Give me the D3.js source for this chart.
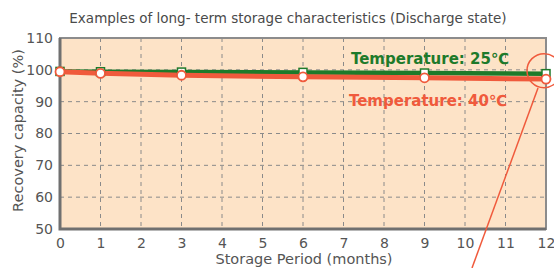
<!DOCTYPE html>
<html>
<head>
<meta charset="utf-8">
<script src="https://cdn.jsdelivr.net/npm/d3@7"></script>
<style>
  body { margin: 0; background: #fff; }
  text { font-family: "DejaVu Sans", sans-serif; }
</style>
</head>
<body>
<svg id="chart"></svg>
<script>
const months = [0, 1, 3, 6, 9, 12];
const temp25 = [99.5, 99.4, 99.3, 99.2, 99.0, 98.8];
const temp40 = [99.4, 98.9, 98.3, 97.8, 97.5, 97.1];
const xTicks = d3.range(0, 13);
const yTicks = [50, 60, 70, 80, 90, 100, 110];

const size = { width: 554, height: 268 };
const margin = { top: 38, right: 8, bottom: 39, left: 60 };

const svg = d3.select("#chart")
  .attr("width", size.width)
  .attr("height", size.height);

const x = d3.scaleLinear()
  .domain([0, 12])
  .range([margin.left, size.width - margin.right]);

const y = d3.scaleLinear()
  .domain([50, 110])
  .range([size.height - margin.bottom, margin.top]);

// plot background
svg.append("rect")
  .attr("x", x(0))
  .attr("y", y(110))
  .attr("width", x(12) - x(0))
  .attr("height", y(50) - y(110))
  .attr("fill", "#fde3c7");

// dashed grid
xTicks.slice(1, -1).forEach((t) => {
  svg.append("line")
    .attr("x1", x(t)).attr("x2", x(t))
    .attr("y1", y(110)).attr("y2", y(50))
    .attr("stroke", "#8a8a8a")
    .attr("stroke-width", 1)
    .attr("stroke-dasharray", "4,4");
});
yTicks.slice(1, -1).forEach((t) => {
  svg.append("line")
    .attr("x1", x(0)).attr("x2", x(12))
    .attr("y1", y(t)).attr("y2", y(t))
    .attr("stroke", "#8a8a8a")
    .attr("stroke-width", 1)
    .attr("stroke-dasharray", "4,4");
});

// frame
svg.append("rect")
  .attr("x", x(0))
  .attr("y", y(110))
  .attr("width", x(12) - x(0))
  .attr("height", y(50) - y(110))
  .attr("fill", "none")
  .attr("stroke", "#8c8c8c")
  .attr("stroke-width", 2);
svg.append("path")
  .attr("d", `M${x(0)},${y(110)}V${y(50)}H${x(12)}`)
  .attr("fill", "none")
  .attr("stroke", "#707070")
  .attr("stroke-width", 3);

// axes (labels only)
const xAxis = svg.append("g")
  .attr("transform", `translate(0, ${y(50)})`)
  .call(d3.axisBottom(x).tickValues(xTicks).tickSize(0).tickPadding(9));
const yAxis = svg.append("g")
  .attr("transform", `translate(${x(0)}, 0)`)
  .call(d3.axisLeft(y).tickValues(yTicks).tickSize(0).tickPadding(7));
[xAxis, yAxis].forEach((g) => {
  g.select(".domain").remove();
  g.selectAll("text")
    .style("font-family", "DejaVu Sans, sans-serif")
    .style("font-size", "14px")
    .attr("fill", "#555");
});

// series
const line = d3.line()
  .x((d, i) => x(months[i]))
  .y((d) => y(d));

svg.append("path")
  .datum(temp25)
  .attr("d", line)
  .attr("fill", "none")
  .attr("stroke", "#1e7a2a")
  .attr("stroke-width", 4.5);

svg.append("path")
  .datum(temp40)
  .attr("d", line)
  .attr("fill", "none")
  .attr("stroke", "#f05a3c")
  .attr("stroke-width", 5);

svg.append("g")
  .selectAll("rect")
  .data(temp25)
  .join("rect")
  .attr("x", (d, i) => x(months[i]) - 4)
  .attr("y", (d) => y(d) - 4)
  .attr("width", 8)
  .attr("height", 8)
  .attr("fill", "#fff")
  .attr("stroke", "#1e7a2a")
  .attr("stroke-width", 1.5);

svg.append("g")
  .selectAll("circle")
  .data(temp40)
  .join("circle")
  .attr("cx", (d, i) => x(months[i]))
  .attr("cy", (d) => y(d))
  .attr("r", 4.5)
  .attr("fill", "#fff")
  .attr("stroke", "#f05a3c")
  .attr("stroke-width", 1.8);

// series labels
svg.append("text")
  .attr("x", 430).attr("y", 64)
  .attr("text-anchor", "middle")
  .attr("fill", "#1e7a2a")
  .style("font-size", "15px")
  .style("font-weight", "bold")
  .text("Temperature: 25℃");
svg.append("text")
  .attr("x", 428).attr("y", 106)
  .attr("text-anchor", "middle")
  .attr("fill", "#f05a3c")
  .style("font-size", "15px")
  .style("font-weight", "bold")
  .text("Temperature: 40℃");

// annotation circle and pointer
svg.append("circle")
  .attr("cx", x(12) - 2)
  .attr("cy", y(temp25[5]) - 3)
  .attr("r", 17)
  .attr("fill", "none")
  .attr("stroke", "#f05a3c")
  .attr("stroke-width", 1.5);
svg.append("line")
  .attr("x1", 538).attr("y1", 88)
  .attr("x2", 472).attr("y2", 268)
  .attr("stroke", "#f05a3c")
  .attr("stroke-width", 1.5);

// titles
svg.append("text")
  .attr("x", 288).attr("y", 23)
  .attr("text-anchor", "middle")
  .attr("fill", "#4a4a4a")
  .style("font-size", "13.5px")
  .text("Examples of long- term storage characteristics (Discharge state)");

svg.append("text")
  .attr("transform", `translate(23, ${(y(50) + y(110)) / 2 - 3}) rotate(-90)`)
  .attr("text-anchor", "middle")
  .attr("fill", "#555")
  .style("font-size", "14.5px")
  .text("Recovery capacity (%)");

svg.append("text")
  .attr("x", 304).attr("y", 264)
  .attr("text-anchor", "middle")
  .attr("fill", "#555")
  .style("font-size", "14.5px")
  .text("Storage Period (months)");
</script>
</body>
</html>
